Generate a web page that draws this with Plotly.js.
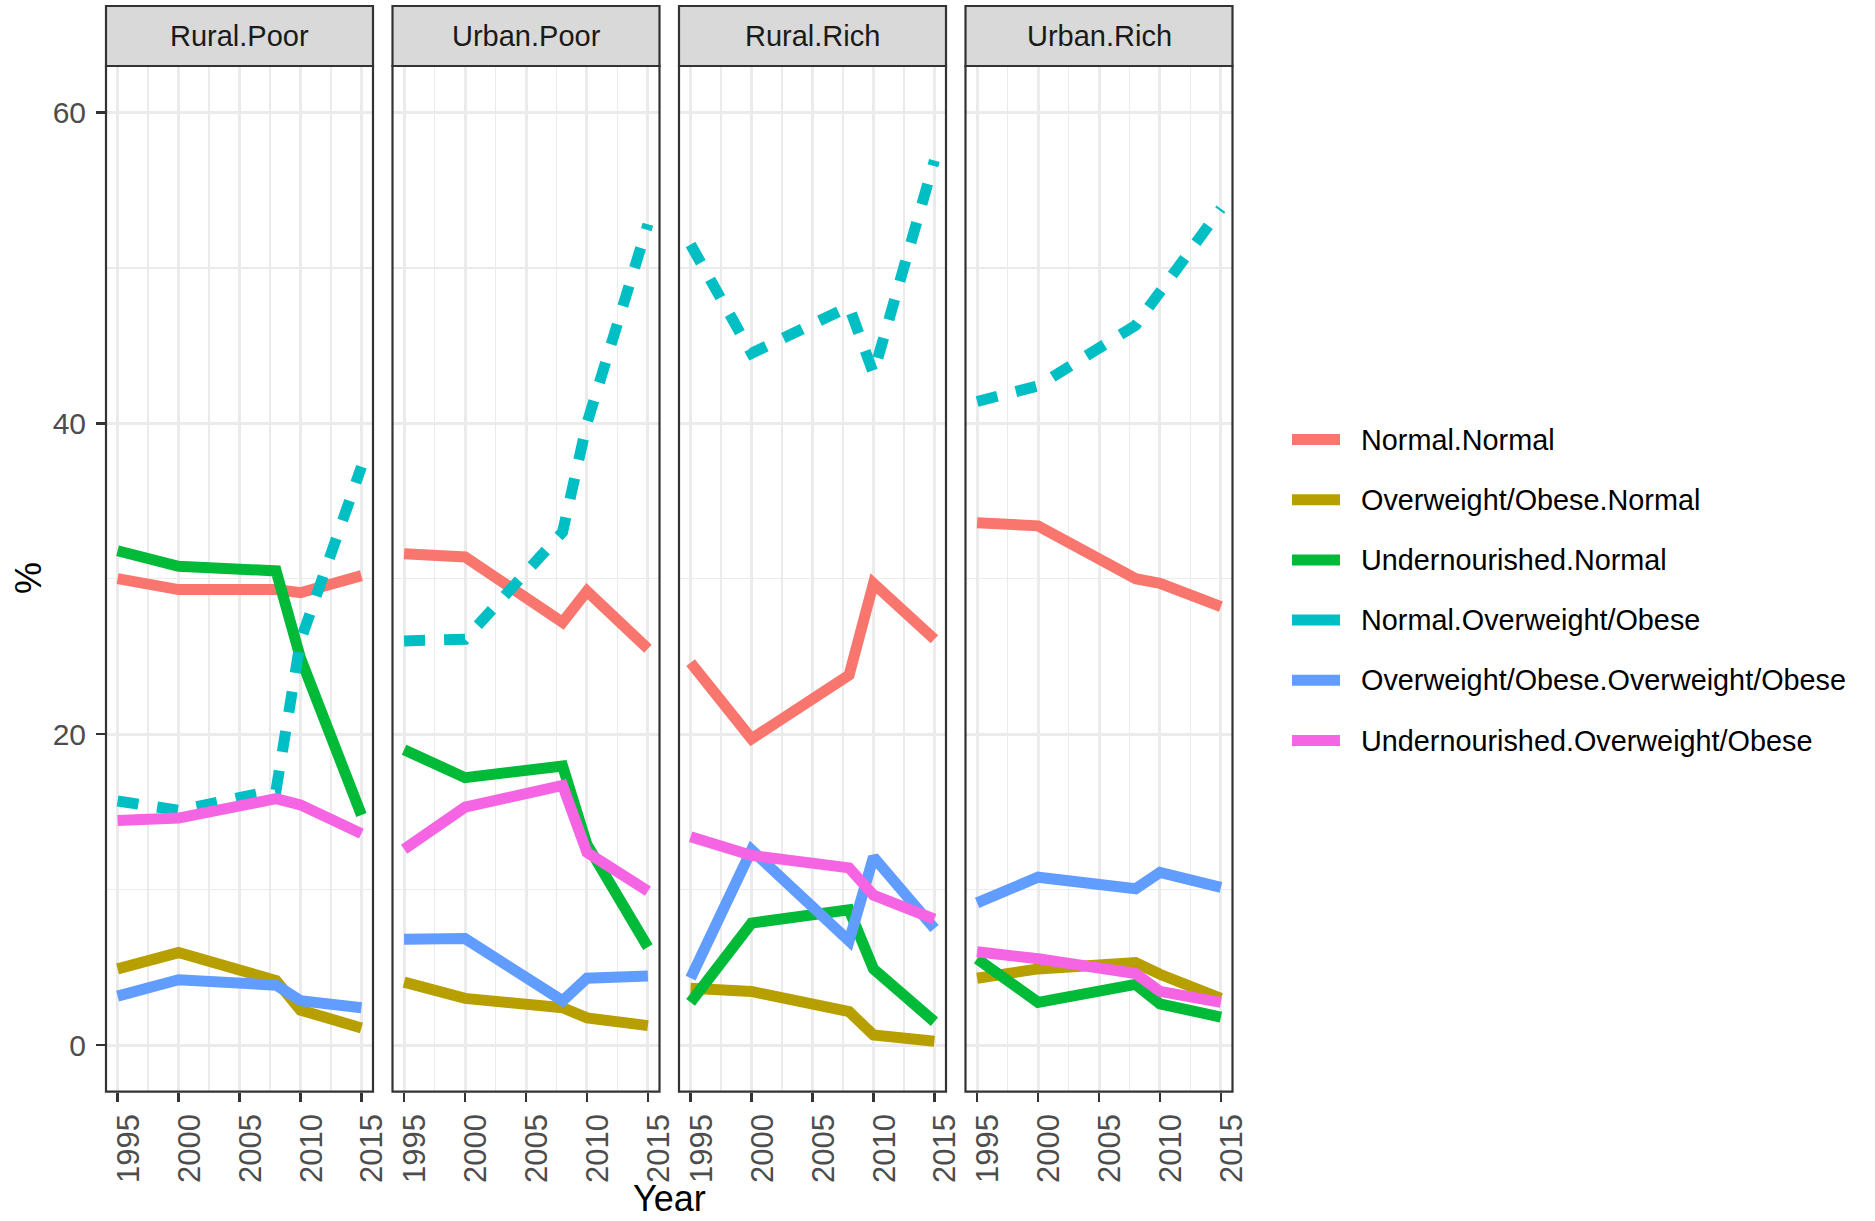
<!DOCTYPE html>
<html>
<head>
<meta charset="utf-8">
<script src="https://cdn.plot.ly/plotly-3.0.1.min.js"></script>
<style>
  html, body { margin: 0; padding: 0; background: #ffffff; }
  #chart { width: 1875px; height: 1221px; }
</style>
</head>
<body>
<div id="chart"></div>
<script>
// Survey years and facets
const years = [1995, 2000, 2008, 2010, 2015];
const panels = ["Rural.Poor", "Urban.Poor", "Rural.Rich", "Urban.Rich"];

// Household nutrition pairings (legend order)
const seriesNames = [
  "Normal.Normal",
  "Overweight/Obese.Normal",
  "Undernourished.Normal",
  "Normal.Overweight/Obese",
  "Overweight/Obese.Overweight/Obese",
  "Undernourished.Overweight/Obese"
];

// Percent of households, one row per facet (Rural.Poor, Urban.Poor, Rural.Rich, Urban.Rich)
const normalNormal = [
  [30.0, 29.3, 29.3, 29.1, 30.2],
  [31.6, 31.4, 27.2, 29.2, 25.5],
  [24.6, 19.7, 23.8, 29.7, 26.1],
  [33.6, 33.4, 30.0, 29.7, 28.2]
];
const overweightNormal = [
  [4.9, 5.95, 4.15, 2.25, 1.1],
  [4.05, 3.0, 2.4, 1.75, 1.25],
  [3.65, 3.45, 2.15, 0.65, 0.25],
  [4.3, 4.9, 5.3, 4.55, 3.0]
];
const underNormal = [
  [31.8, 30.8, 30.5, 24.9, 14.8],
  [19.0, 17.2, 17.95, 12.9, 6.3],
  [2.75, 7.85, 8.7, 4.9, 1.5],
  [5.55, 2.75, 3.9, 2.65, 1.8]
];
const normalOverweight = [
  [15.7, 15.1, 16.4, 26.0, 37.2],
  [26.0, 26.1, 33.0, 40.0, 52.8],
  [51.5, 44.5, 47.5, 43.2, 56.9],
  [41.4, 42.4, 46.3, 48.4, 53.8]
];
const overweightOverweight = [
  [3.15, 4.2, 3.85, 2.85, 2.4],
  [6.8, 6.85, 2.85, 4.3, 4.45],
  [4.3, 12.55, 6.7, 12.1, 7.5],
  [9.15, 10.8, 10.05, 11.1, 10.15]
];
const underOverweight = [
  [14.45, 14.6, 15.85, 15.45, 13.6],
  [12.6, 15.3, 16.7, 12.4, 9.9],
  [13.4, 12.2, 11.4, 9.65, 8.1],
  [6.0, 5.55, 4.6, 3.45, 2.75]
];

const yTicks = [0, 20, 40, 60];
const xTicks = [1995, 2000, 2005, 2010, 2015];

// ---- styling ----
const seriesValues = [normalNormal, overweightNormal, underNormal,
                      normalOverweight, overweightOverweight, underOverweight];
const seriesColors = ["#F8766D", "#B79F00", "#00BA38", "#00BFC4", "#619CFF", "#F564E3"];
const seriesDash = ["solid", "solid", "solid", "21px,19px", "solid", "solid"];

const FONT = "Liberation Sans, Arial, sans-serif";
const W = 1875, H = 1221;
const panelPx = [[106, 373], [392.5, 659.5], [679, 946], [965.5, 1232.5]];
const plotTop = 66, plotBottom = 1091.7, stripTop = 6;
const fx = p => p / W;
const fy = p => 1 - p / H;

const traces = [];
seriesNames.forEach((name, s) => {
  panels.forEach((panel, p) => {
    const k = p === 0 ? "" : String(p + 1);
    traces.push({
      type: "scatter",
      mode: "lines",
      name: name,
      x: years,
      y: seriesValues[s][p],
      xaxis: "x" + k,
      yaxis: "y" + k,
      line: { color: seriesColors[s], width: 11, dash: seriesDash[s], shape: "linear" },
      showlegend: false,
      hoverinfo: "x+y+name"
    });
  });
});

const layout = {
  width: W,
  height: H,
  margin: { l: 0, r: 0, t: 0, b: 0, pad: 0 },
  paper_bgcolor: "#ffffff",
  plot_bgcolor: "#ffffff",
  showlegend: false,
  font: { family: FONT, size: 29, color: "#4D4D4D" },
  shapes: [],
  annotations: []
};

panels.forEach((panel, p) => {
  const k = p === 0 ? "" : String(p + 1);
  const dom = [fx(panelPx[p][0]), fx(panelPx[p][1])];
  layout["xaxis" + k] = {
    domain: dom,
    anchor: "y" + k,
    range: [1994.05, 2015.95],
    tickmode: "array",
    tickvals: xTicks,
    ticktext: xTicks.map(String),
    tickangle: -90,
    ticks: "outside",
    ticklen: 9,
    tickwidth: 2.6,
    tickcolor: "#333333",
    ticklabelstandoff: 0,
    ticklabelshift: 11,
    tickfont: { family: FONT, size: 31, color: "#4D4D4D" },
    showgrid: true,
    gridcolor: "#EBEBEB",
    gridwidth: 3,
    minor: { tickmode: "array", tickvals: [1997.5, 2002.5, 2007.5, 2012.5],
             showgrid: true, gridcolor: "#EBEBEB", gridwidth: 1.6, ticks: "" },
    zeroline: false,
    showline: false,
    fixedrange: true
  };
  layout["yaxis" + k] = {
    domain: [fy(plotBottom), fy(plotTop)],
    anchor: "x" + k,
    range: [-3.0, 62.98],
    tickmode: "array",
    tickvals: yTicks,
    ticktext: yTicks.map(String),
    showticklabels: p === 0,
    ticks: p === 0 ? "outside" : "",
    ticklen: 9,
    tickwidth: 2.6,
    tickcolor: "#333333",
    ticklabelstandoff: 4,
    tickfont: { family: FONT, size: 30, color: "#4D4D4D" },
    showgrid: true,
    gridcolor: "#EBEBEB",
    gridwidth: 3,
    minor: { tickmode: "array", tickvals: [10, 30, 50],
             showgrid: true, gridcolor: "#EBEBEB", gridwidth: 1.6, ticks: "" },
    zeroline: false,
    showline: false,
    fixedrange: true
  };

  // panel border
  layout.shapes.push({
    type: "rect", xref: "paper", yref: "paper", layer: "above",
    x0: dom[0], x1: dom[1], y0: fy(plotBottom), y1: fy(plotTop),
    line: { color: "#333333", width: 2.2 }, fillcolor: "rgba(0,0,0,0)"
  });
  // facet strip
  layout.shapes.push({
    type: "rect", xref: "paper", yref: "paper", layer: "above",
    x0: dom[0], x1: dom[1], y0: fy(plotTop), y1: fy(stripTop),
    line: { color: "#333333", width: 2.2 }, fillcolor: "#D9D9D9"
  });
  layout.annotations.push({
    xref: "paper", yref: "paper",
    x: (dom[0] + dom[1]) / 2, y: fy((plotTop + stripTop) / 2),
    xanchor: "center", yanchor: "middle", showarrow: false,
    text: panel,
    font: { family: FONT, size: 29, color: "#1A1A1A" }
  });
});

// axis titles
layout.annotations.push({
  xref: "paper", yref: "paper", x: fx(669), y: fy(1198),
  xanchor: "center", yanchor: "middle", showarrow: false,
  text: "Year", font: { family: FONT, size: 36, color: "#000000" }
});
layout.annotations.push({
  xref: "paper", yref: "paper", x: fx(28), y: fy(578),
  xanchor: "center", yanchor: "middle", showarrow: false, textangle: -90,
  text: "%", font: { family: FONT, size: 36, color: "#000000" }
});

// legend: coloured keys with series labels
const legendKeyX = [1292, 1340], legendTextX = 1359;
const legendTop = 439.5, legendStep = 60.2;
seriesNames.forEach((name, s) => {
  const yc = legendTop + s * legendStep;
  layout.shapes.push({
    type: "line", xref: "paper", yref: "paper",
    x0: fx(legendKeyX[0]), x1: fx(legendKeyX[1]), y0: fy(yc), y1: fy(yc),
    line: { color: seriesColors[s], width: 11 }
  });
  layout.annotations.push({
    xref: "paper", yref: "paper", x: fx(legendTextX), y: fy(yc),
    xanchor: "left", yanchor: "middle", showarrow: false,
    text: name, font: { family: FONT, size: 28.8, color: "#000000" }
  });
});

Plotly.newPlot("chart", traces, layout, { staticPlot: true, displayModeBar: false });
</script>
</body>
</html>
